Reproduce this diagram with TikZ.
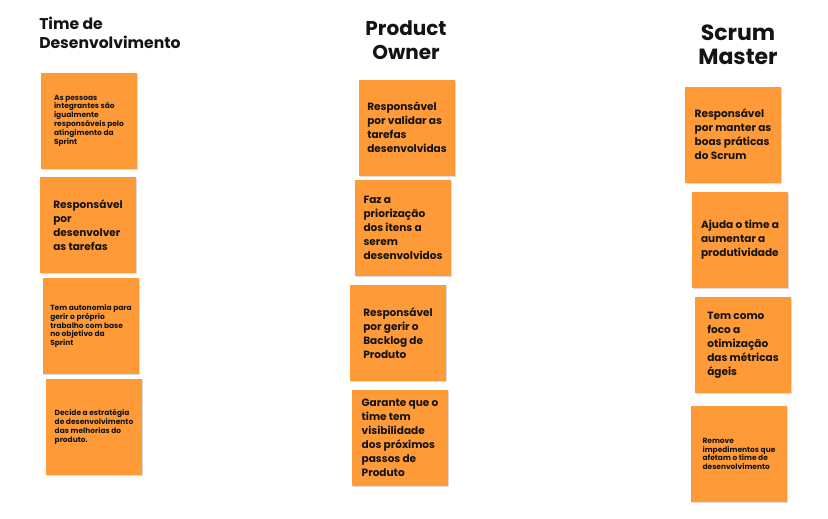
\documentclass[tikz,border=0pt]{standalone}
\usepackage{fontspec}
\setmainfont{Poppins}
\usetikzlibrary{shadows}
\definecolor{postit}{RGB}{255,154,56}
\definecolor{ink}{RGB}{20,20,20}

\tikzset{
  note/.style={fill=postit, minimum width=72pt, minimum height=72pt, inner sep=0pt,
    align=left, text=ink, font=\bfseries\fontsize{7.9}{10.5}\selectfont,
    drop shadow={shadow xshift=0.9pt, shadow yshift=-0.9pt, opacity=0.35, fill=black!40}},
  tiny/.style={font=\bfseries\fontsize{5.6}{6.6}\selectfont},
  head/.style={align=center, text=ink, inner sep=0pt, font=\bfseries\fontsize{15}{18}\selectfont}
}

\begin{document}
\begin{tikzpicture}[x=0.75pt, y=-0.75pt]
	\useasboundingbox (0,0) rectangle (828,518);

	% titulos
	\node [head, align=left, anchor=north west, font=\bfseries\fontsize{11.7}{14.25}\selectfont] (tTime) at (39,17) {Time de\\Desenvolvimento};
	\node [head] (tPO) at (406,40) {Product\\Owner};
	\node [head, font=\bfseries\fontsize{16.5}{18}\selectfont] (tSM) at (738,45) {Scrum\\Master};

	% time de desenvolvimento
	\node [note, tiny] (T1) at (89,120.5) {As pessoas\\integrantes são\\igualmente\\responsáveis pelo\\atingimento da\\Sprint};
	\node [note] (T2) at (88,225) {Responsável\\por\\desenvolver\\as tarefas};
	\node [note, tiny] (T3) at (91,326) {Tem autonomia para\\gerir o próprio\\trabalho com base\\no objetivo da\\Sprint};
	\node [note, tiny] (T4) at (94,427) {Decide a estratégia\\de desenvolvimento\\das melhorias do\\produto.};

	% product owner
	\node [note] (P1) at (407,127.5) {Responsável\\por validar as\\tarefas\\desenvolvidas};
	\node [note] (P2) at (403,228) {Faz a\\priorização\\dos itens a\\serem\\desenvolvidos};
	\node [note] (P3) at (398,333) {Responsável\\por gerir o\\Backlog de\\Produto};
	\node [note] (P4) at (400,438) {Garante que o\\time tem\\visibilidade\\dos próximos\\passos de\\Produto};

	% scrum master
	\node [note] (M1) at (733,134.5) {Responsável\\por manter as\\boas práticas\\do Scrum};
	\node [note] (M2) at (740,240) {Ajuda o time a\\aumentar a\\produtividade};
	\node [note] (M3) at (743,345) {Tem como\\foco a\\otimização\\das métricas\\ágeis};
	\node [note, tiny] (M4) at (739,454) {Remove\\impedimentos que\\afetam o time de\\desenvolvimento};
\end{tikzpicture}
\end{document}
